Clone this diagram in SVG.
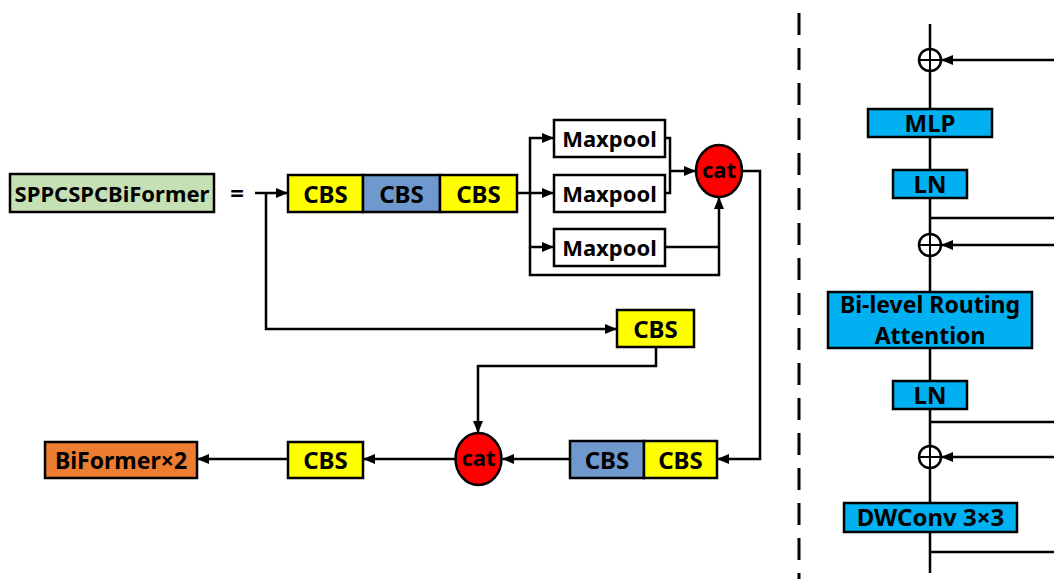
<svg xmlns="http://www.w3.org/2000/svg" width="1054" height="579" viewBox="0 0 1054 579">
<style>
.b{stroke:#000;stroke-width:2.5}
.t{font-family:"Noto Sans","Open Sans","DejaVu Sans",sans-serif;font-weight:bold;fill:#000;text-anchor:middle;dominant-baseline:central}
.c{fill:none;stroke:#000;stroke-width:2.5}
.y{fill:#ffff00}.bl{fill:#6f98cc}.cy{fill:#00b0f0}.r{fill:#ff0000}.w{fill:#fff}
.s24{font-size:24px}.s22{font-size:22px}.s23{font-size:23px}
</style>
<defs>
<marker id="ah" markerWidth="12" markerHeight="10" refX="11" refY="5" orient="auto" markerUnits="userSpaceOnUse">
<path d="M0,0 L12,5 L0,10 Z" fill="#000"/>
</marker>
</defs>
<rect width="1054" height="579" fill="#fff"/>

<g id="connectors">
<path class="c" d="M255,193 H287" marker-end="url(#ah)"/>
<path class="c" d="M266,193 V329 H616" marker-end="url(#ah)"/>
<path class="c" d="M517,193 H553" marker-end="url(#ah)"/>
<path class="c" d="M530,193 V138 H553" marker-end="url(#ah)"/>
<path class="c" d="M530,193 V247 H553" marker-end="url(#ah)"/>
<path class="c" d="M530,247 V275 H719 V198" marker-end="url(#ah)"/>
<path class="c" d="M665,138 H670 V193 H665"/>
<path class="c" d="M670,171 H695" marker-end="url(#ah)"/>
<path class="c" d="M665,247 H719"/>
<path class="c" d="M742,171 H760 V459 H718" marker-end="url(#ah)"/>
<path class="c" d="M656,347 V366 H478 V432" marker-end="url(#ah)"/>
<path class="c" d="M570,459 H503" marker-end="url(#ah)"/>
<path class="c" d="M455,459 H364" marker-end="url(#ah)"/>
<path class="c" d="M288,459 H198" marker-end="url(#ah)"/>
<path d="M799,13 V579" fill="none" stroke="#000" stroke-width="3" stroke-dasharray="22,13"/>
<path class="c" d="M930,24 V49 M930,71 V109 M930,137 V170 M930,198 V234 M930,256 V292 M930,348 V381 M930,409 V446 M930,468 V503 M930,532 V573"/>
<path class="c" d="M1054,60 H942" marker-end="url(#ah)"/>
<path class="c" d="M1054,245 H942" marker-end="url(#ah)"/>
<path class="c" d="M1054,457 H942" marker-end="url(#ah)"/>
<path class="c" d="M930,218 H1054 M930,422 H1054 M930,552 H1054"/>
</g>

<g id="sppcspc">
<rect class="b" x="10" y="174" width="204" height="38" fill="#c5e0b4"/>
<text class="t" x="112" y="193" font-size="22">SPPCSPCBiFormer</text>
</g>
<g id="eq"><text class="t" x="237" y="192" font-size="24">=</text></g>

<g id="cbs3">
<rect class="b y" x="288" y="175" width="75" height="37"/>
<rect class="b bl" x="363" y="175" width="77" height="37"/>
<rect class="b y" x="440" y="175" width="77" height="37"/>
<text class="t s24" x="325.5" y="193">CBS</text>
<text class="t s24" x="401.5" y="193">CBS</text>
<text class="t s24" x="478.5" y="193">CBS</text>
</g>

<g id="maxpool1"><rect class="b w" x="554" y="120" width="111" height="37"/><text class="t s22" x="609.5" y="138">Maxpool</text></g>
<g id="maxpool2"><rect class="b w" x="554" y="175" width="111" height="37"/><text class="t s22" x="609.5" y="193">Maxpool</text></g>
<g id="maxpool3"><rect class="b w" x="554" y="229" width="111" height="37"/><text class="t s22" x="609.5" y="247">Maxpool</text></g>

<g id="cat1"><ellipse class="b r" cx="719" cy="171" rx="23" ry="26"/><text class="t s22" x="719" y="169">cat</text></g>

<g id="cbs-mid"><rect class="b y" x="617" y="310" width="77" height="37"/><text class="t s24" x="655.5" y="328">CBS</text></g>

<g id="cbs2">
<rect class="b bl" x="570" y="441" width="74" height="37"/>
<rect class="b y" x="644" y="441" width="73" height="37"/>
<text class="t s24" x="607" y="459">CBS</text>
<text class="t s24" x="680.5" y="459">CBS</text>
</g>

<g id="cat2"><ellipse class="b r" cx="478.5" cy="459" rx="23" ry="26"/><text class="t s22" x="478.5" y="457">cat</text></g>

<g id="cbs-out"><rect class="b y" x="288" y="442" width="75" height="36"/><text class="t s24" x="325.5" y="459.5">CBS</text></g>

<g id="biformer"><rect class="b" x="45" y="442" width="152" height="36" fill="#ed7d31"/><text class="t s23" x="121" y="459.5">BiFormer×2</text></g>

<g id="add1"><circle cx="930" cy="60" r="11" fill="none" stroke="#000" stroke-width="2.5"/><path d="M919,60 H941 M930,49 V71" stroke="#000" stroke-width="2"/></g>
<g id="mlp"><rect class="b cy" x="868" y="109" width="124" height="28"/><text class="t s24" x="930" y="122">MLP</text></g>
<g id="ln1"><rect class="b cy" x="893" y="170" width="74" height="28"/><text class="t s24" x="930" y="183">LN</text></g>
<g id="add2"><circle cx="930" cy="245" r="11" fill="none" stroke="#000" stroke-width="2.5"/><path d="M919,245 H941 M930,234 V256" stroke="#000" stroke-width="2"/></g>
<g id="bra"><rect class="b cy" x="828" y="292" width="204" height="56"/><text class="t s23" x="930" y="304">Bi-level Routing</text><text class="t s23" x="930" y="335">Attention</text></g>
<g id="ln2"><rect class="b cy" x="893" y="381" width="74" height="28"/><text class="t s24" x="930" y="394">LN</text></g>
<g id="add3"><circle cx="930" cy="457" r="11" fill="none" stroke="#000" stroke-width="2.5"/><path d="M919,457 H941 M930,446 V468" stroke="#000" stroke-width="2"/></g>
<g id="dwconv"><rect class="b cy" x="844" y="503" width="173" height="29"/><text class="t s24" x="930.5" y="516.5">DWConv 3×3</text></g>
</svg>
